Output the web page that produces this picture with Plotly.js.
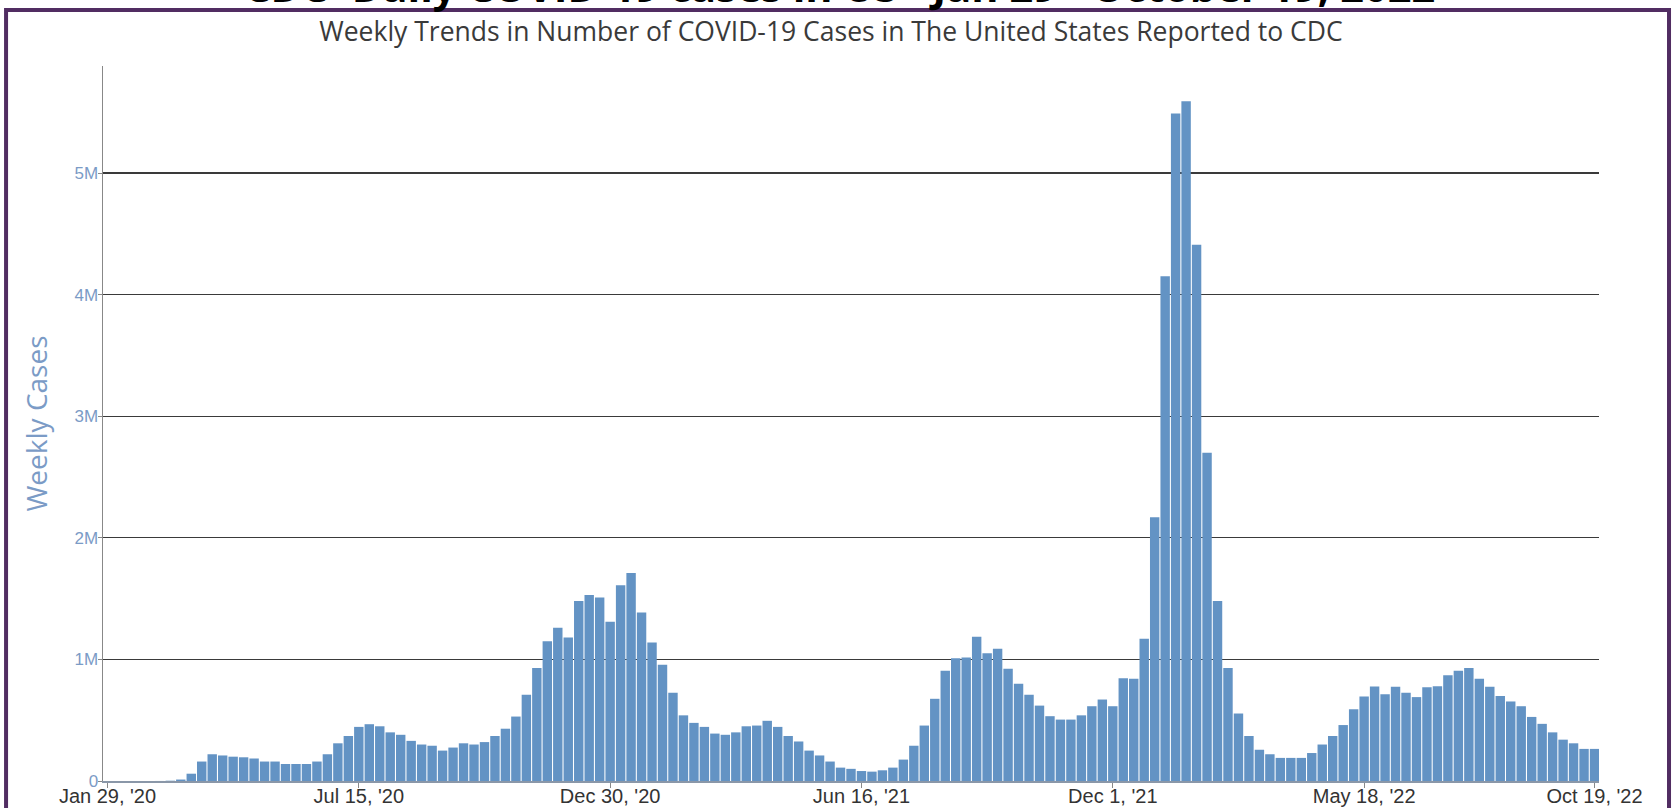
<!DOCTYPE html>
<html>
<head>
<meta charset="utf-8">
<script src="https://cdn.plot.ly/plotly-3.0.1.min.js"></script>
<style>
  html, body { margin: 0; padding: 0; background: #ffffff; }
  #chart { width: 1673px; height: 808px; }
</style>
</head>
<body>
<div id="chart"></div>
<script>
// ---- Data (weekly COVID-19 cases, week of Jan 29 2020 .. Oct 19 2022) ----
const FIRST_WEEK = '2020-01-29';
const WEEK_COUNT = 143;

const weeklyCases2020a = [ // Jan 29 – Jul 15 2020
  2, 3, 5, 10, 40, 300, 2500, 12000, 60000, 160000,
  220000, 210000, 200000, 195000, 185000, 160000, 160000, 140000, 140000, 140000,
  160000, 220000, 310000, 370000, 445000
];
const weeklyCases2020b = [ // Jul 22 – Dec 30 2020
  467000, 450000, 400000, 380000, 330000, 300000, 290000, 250000, 275000, 310000,
  300000, 320000, 370000, 430000, 530000, 710000, 930000, 1150000, 1260000, 1180000,
  1480000, 1530000, 1510000, 1310000
];
const weeklyCases2021a = [ // Jan 6 – Jun 16 2021
  1610000, 1710000, 1385000, 1140000, 956000, 725000, 540000, 478000, 445000, 390000,
  380000, 400000, 450000, 456000, 495000, 445000, 370000, 325000, 250000, 210000,
  160000, 110000, 100000, 82000
];
const weeklyCases2021b = [ // Jun 23 – Dec 1 2021
  77000, 88000, 110000, 176000, 290000, 456000, 676000, 907000, 1010000, 1016000,
  1187000, 1050000, 1088000, 923000, 800000, 710000, 620000, 533000, 505000, 505000,
  540000, 615000, 670000, 615000
];
const weeklyCases2022a = [ // Dec 8 2021 – May 18 2022
  846000, 840000, 1170000, 2170000, 4150000, 5490000, 5590000, 4410000, 2700000, 1480000,
  930000, 555000, 370000, 257000, 220000, 190000, 190000, 190000, 230000, 300000,
  370000, 460000, 590000, 695000
];
const weeklyCases2022b = [ // May 25 – Oct 19 2022
  778000, 714000, 775000, 725000, 690000, 770000, 780000, 870000, 907000, 930000,
  840000, 775000, 700000, 654000, 615000, 527000, 470000, 400000, 340000, 310000,
  264000, 264000
];

const tickDates = ['2020-01-29', '2020-07-15', '2020-12-30', '2021-06-16', '2021-12-01', '2022-05-18', '2022-10-19'];
const tickLabels = ["Jan 29, '20", "Jul 15, '20", "Dec 30, '20", "Jun 16, '21", "Dec 1, '21", "May 18, '22", "Oct 19, '22"];
const yTickVals = [0, 1000000, 2000000, 3000000, 4000000, 5000000];
const yTickLabels = ['0', '1M', '2M', '3M', '4M', '5M'];

const chartTitle = 'CDC- Daily COVID-19 cases in US - Jan 29 - October 19, 2022';
const chartSubtitle = 'Weekly Trends in Number of COVID-19 Cases in The United States Reported to CDC';
const yTitle = 'Weekly Cases';

// ---- Build ----
const weeklyCases = [].concat(weeklyCases2020a, weeklyCases2020b, weeklyCases2021a,
                              weeklyCases2021b, weeklyCases2022a, weeklyCases2022b);
const weeks = [];
const start = new Date(FIRST_WEEK + 'T00:00:00Z');
for (let i = 0; i < WEEK_COUNT; i++) {
  const d = new Date(start.getTime() + i * 7 * 86400000);
  weeks.push(d.toISOString().slice(0, 10));
}

const trace = {
  type: 'bar',
  x: weeks,
  y: weeklyCases,
  marker: { color: '#6393c4', line: { width: 0 } },
  hoverinfo: 'x+y'
};

const layout = {
  width: 1673,
  height: 808,
  margin: { l: 103, r: 74, t: 66, b: 27 },
  paper_bgcolor: '#ffffff',
  plot_bgcolor: '#ffffff',
  bargap: 0.1,
  showlegend: false,
  title: {
    text: chartSubtitle,
    font: { family: 'Open Sans, sans-serif', size: 26.5, color: '#3a3a3a' },
    xref: 'container', x: 0.4967, xanchor: 'center',
    yref: 'container', y: 0.961, yanchor: 'middle'
  },
  xaxis: {
    type: 'date',
    range: ['2020-01-26', '2022-10-22'],
    tickmode: 'array',
    tickvals: tickDates,
    ticktext: tickLabels,
    ticks: 'outside', ticklen: 5, tickcolor: '#888888',
    ticklabelstandoff: -9,
    showline: true, linecolor: '#8a97a8', linewidth: 1.5,
    showgrid: false, zeroline: false,
    tickfont: { family: 'Liberation Sans, Arial, sans-serif', size: 20, color: '#333333' }
  },
  yaxis: {
    range: [0, 5880000],
    tickmode: 'array',
    tickvals: yTickVals,
    ticktext: yTickLabels,
    ticks: 'outside', ticklen: 4, tickcolor: '#888888',
    ticklabelstandoff: -4,
    showline: true, linecolor: '#888888', linewidth: 1.5,
    showgrid: true, gridcolor: '#3a3a3a', gridwidth: 1.4,
    zeroline: false,
    tickfont: { family: 'Liberation Sans, Arial, sans-serif', size: 17, color: '#7b9bc6' },
    title: {
      text: yTitle,
      standoff: 18,
      font: { family: 'Open Sans, sans-serif', size: 28, color: '#7b9bc6' }
    }
  },
  annotations: [{
    text: '<b>' + chartTitle + '</b>',
    xref: 'paper', yref: 'paper',
    x: 0.4926, y: 1.1115,
    xanchor: 'center', yanchor: 'middle',
    showarrow: false,
    font: { family: 'Open Sans, sans-serif', size: 41.5, color: '#000000' }
  }],
  shapes: [{
    type: 'rect', xref: 'paper', yref: 'paper',
    x0: -0.0648, x1: 1.0468, y0: -0.0685, y1: 1.0783,
    line: { color: '#512d62', width: 4 },
    fillcolor: 'rgba(0,0,0,0)',
    layer: 'above'
  }]
};

Plotly.newPlot('chart', [trace], layout, { displayModeBar: false, staticPlot: true });
</script>
</body>
</html>
